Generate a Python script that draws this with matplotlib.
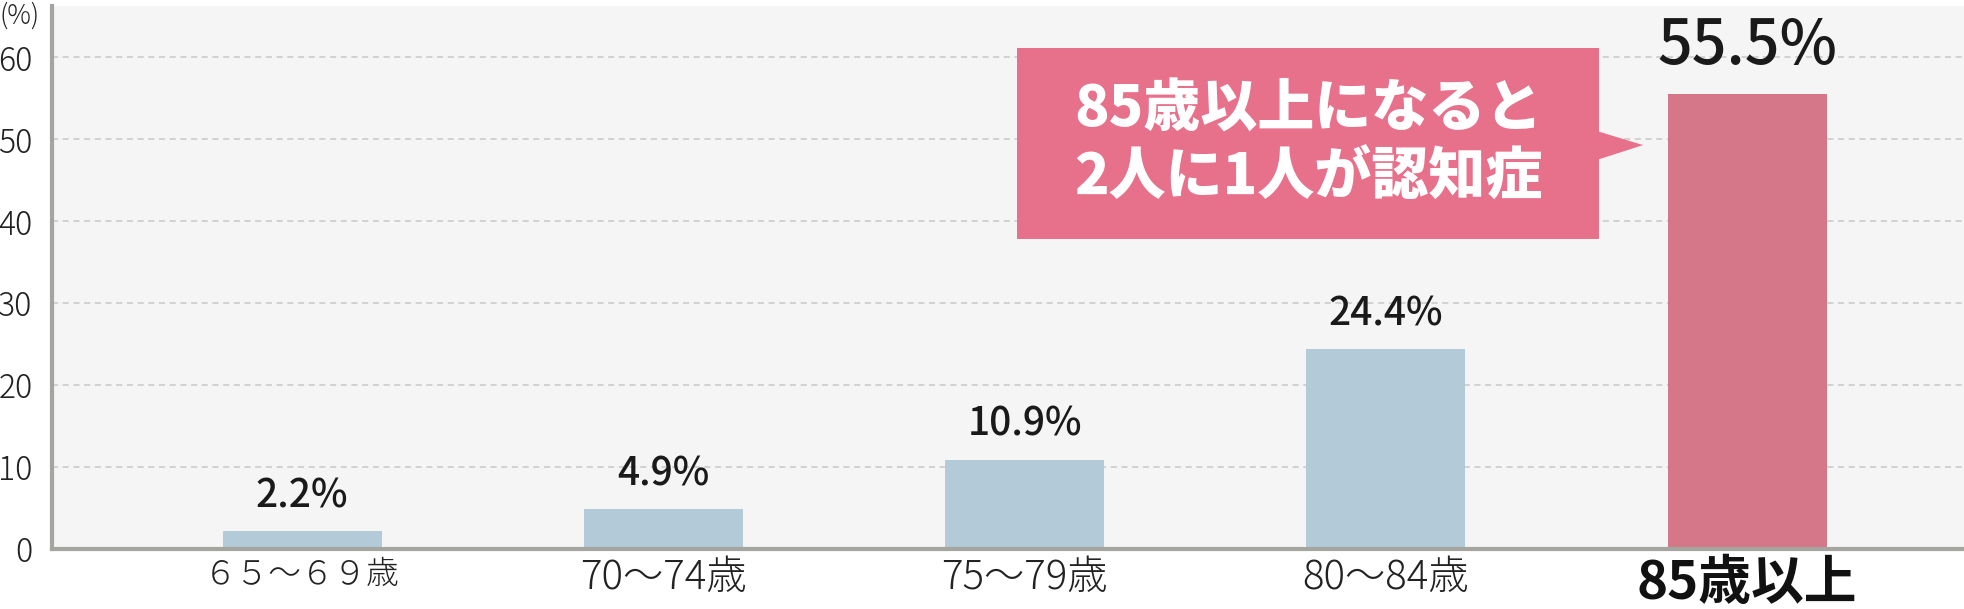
import matplotlib
matplotlib.use('Agg')
import matplotlib.pyplot as plt
from matplotlib.patches import Polygon, Rectangle

plt.rcParams['font.family'] = ['Noto Sans CJK JP', 'DejaVu Sans']

# データ
age_labels = ['６５～６９歳', '70～74歳', '75～79歳', '80～84歳', '85歳以上']
rates = [2.2, 4.9, 10.9, 24.4, 55.5]
rate_labels = ['2.2%', '4.9%', '10.9%', '24.4%', '55.5%']
y_ticks = [0, 10, 20, 30, 40, 50, 60]
callout_lines = ['85歳以上になると', '2人に1人が認知症']

BLUE = '#b3cad8'
PINK_BAR = '#d57689'
PINK_BOX = '#e7708b'
BG = '#f5f5f5'

fig = plt.figure(figsize=(19.65, 6.09), dpi=100)
ax = fig.add_axes([0.0265, 0.0985, 0.9735, 0.892])
ax.set_facecolor(BG)

x = list(range(len(rates)))
colors = [BLUE] * (len(rates) - 1) + [PINK_BAR]
ax.bar(x, rates, width=0.44, color=colors, zorder=3)

# 棒の上の数値
for i, (v, s) in enumerate(zip(rates, rate_labels)):
    big = i == len(rates) - 1
    ax.text(i, v + (2.0 if big else 1.8), s, ha='center', va='bottom',
            fontsize=44 if big else 28, fontweight='medium', color='#1a1a1a', zorder=4)

ax.set_xlim(-0.692, 4.603)
ax.set_ylim(0, 66.3)
ax.set_yticks(y_ticks)
ax.set_yticklabels([str(t) for t in y_ticks], fontsize=23, color='#222222',
                   fontweight='light')
ax.tick_params(axis='y', length=0, pad=14)
ax.tick_params(axis='x', length=0, pad=6)
ax.set_xticks(x)
ax.set_xticklabels(age_labels, fontsize=29, color='#222222', fontweight='light')
xl = ax.get_xticklabels()
xl[0].set_fontsize(23.5)  # 全角数字なので少し小さく
xl[-1].set_fontsize(38)
xl[-1].set_fontweight('bold')
xl[-1].set_color('#111111')

ax.grid(axis='y', color='#c8c8c8', linestyle=(0, (4, 3)), linewidth=1.1, zorder=1)
for t in ax.yaxis.get_gridlines()[:1]:
    t.set_visible(False)

for side in ['top', 'right']:
    ax.spines[side].set_visible(False)
for side in ['left', 'bottom']:
    ax.spines[side].set_color('#a5a5a0')
    ax.spines[side].set_linewidth(3)
    ax.spines[side].set_zorder(5)

# 吹き出し
box = Rectangle((1.979, 37.8), 3.590 - 1.979, 61.1 - 37.8, facecolor=PINK_BOX,
                edgecolor='none', zorder=6)
ax.add_patch(box)
tri = Polygon([(3.585, 51.0), (3.712, 49.3), (3.585, 47.5)], closed=True,
              facecolor=PINK_BOX, edgecolor='none', zorder=6)
ax.add_patch(tri)
ax.text((1.979 + 3.590) / 2, (37.8 + 61.1) / 2, '\n'.join(callout_lines),
        ha='center', va='center', multialignment='left', fontsize=41,
        fontweight='heavy', color='white', linespacing=1.22, zorder=7)

fig.text(0.0, 0.997, '(%)', ha='left', va='top', fontsize=19, color='#222222',
         fontweight='light')

fig.savefig('out.png', dpi=100)
